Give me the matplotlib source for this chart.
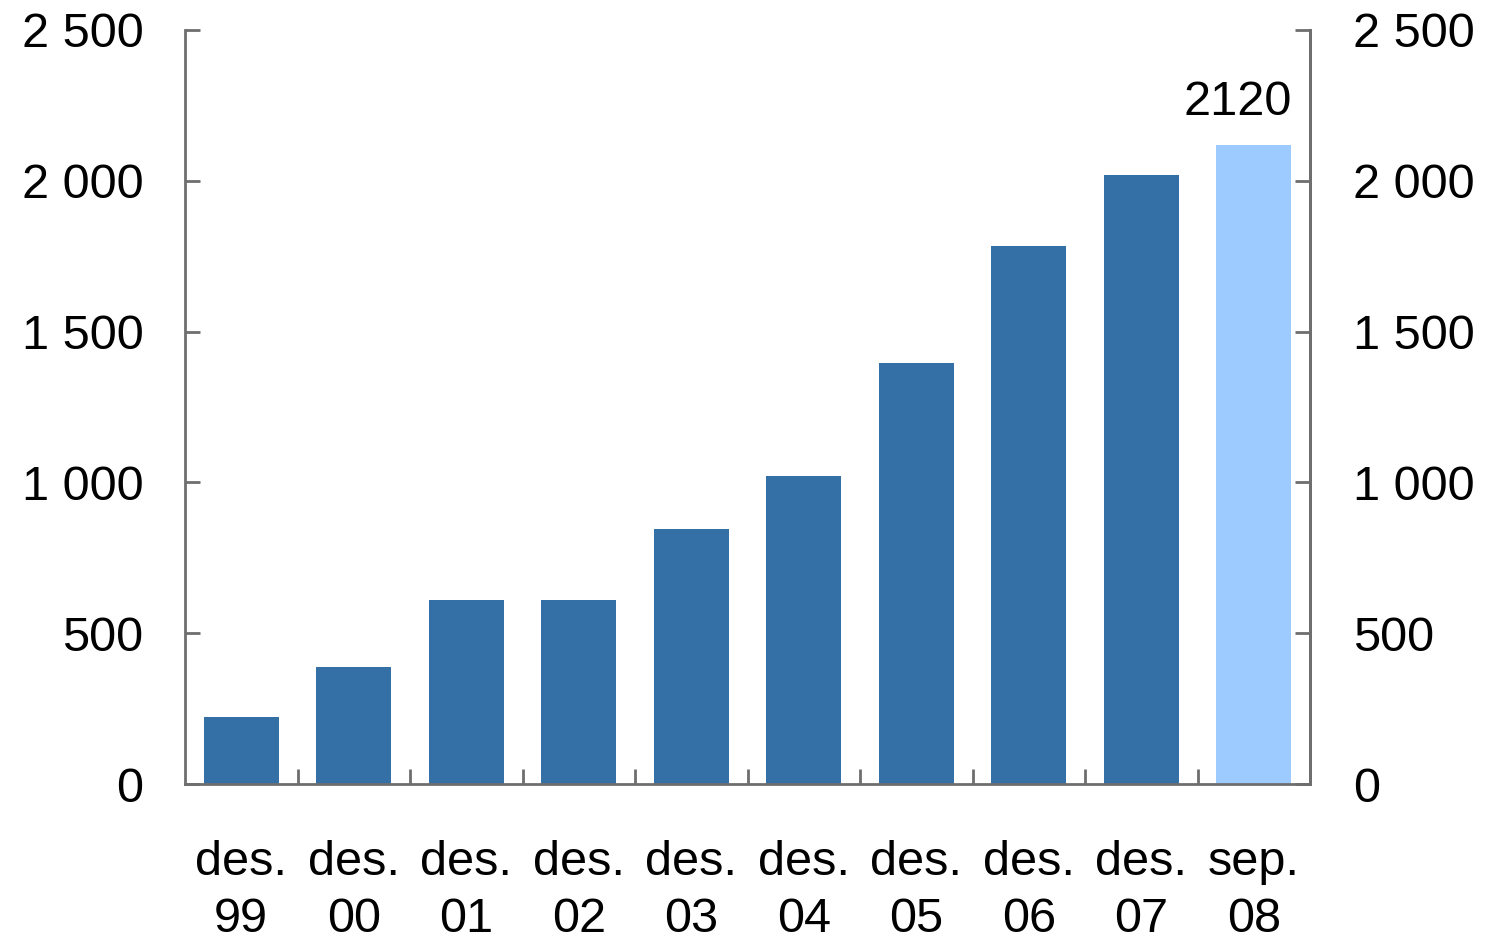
import matplotlib.pyplot as plt
from matplotlib.ticker import FuncFormatter

plt.rcParams['font.family'] = ['Liberation Sans', 'DejaVu Sans']

categories = ["des.\n99", "des.\n00", "des.\n01", "des.\n02", "des.\n03",
              "des.\n04", "des.\n05", "des.\n06", "des.\n07", "sep.\n08"]
values = [222, 388, 610, 610, 845, 1021, 1396, 1784, 2019, 2120]
highlight = "sep.\n08"

DARK = '#3470A6'
LIGHT = '#9DCBFF'
SPINE = '#6E6E6E'
FS = 35

fig = plt.figure(figsize=(14.89, 9.40), dpi=100)
ax = fig.add_axes([185 / 1489, 1 - 784 / 940, 1125 / 1489, 754 / 940])

x = list(range(len(categories)))
colors = [LIGHT if c == highlight else DARK for c in categories]
width = 0.67
ax.bar(x, values, width=width, color=colors, edgecolor='none', zorder=2)

ax.set_xlim(-0.5, len(categories) - 0.5)
ax.set_ylim(0, 2500)
ax.set_yticks([0, 500, 1000, 1500, 2000, 2500])
fmt = FuncFormatter(lambda v, p: f"{int(v):,}".replace(",", " "))
ax.yaxis.set_major_formatter(fmt)

ax.set_xticks(x)
ax.set_xticklabels(categories, fontsize=FS, linespacing=1.36)
ax.set_xticks([i + 0.5 for i in x[:-1]], minor=True)
ax.tick_params(axis='x', which='major', length=0, pad=40)
ax.tick_params(axis='x', which='minor', direction='in', length=11, width=2, color=SPINE)
ax.tick_params(axis='y', direction='in', length=11, width=2, color=SPINE,
               labelsize=FS, pad=30)

ax.spines['top'].set_visible(False)
for side in ['left', 'right', 'bottom']:
    ax.spines[side].set_color(SPINE)
    ax.spines[side].set_linewidth(2)

ax2 = ax.twinx()
ax2.set_ylim(ax.get_ylim())
ax2.set_yticks([0, 500, 1000, 1500, 2000, 2500])
ax2.yaxis.set_major_formatter(fmt)
ax2.tick_params(axis='y', direction='in', length=11, width=2, color=SPINE,
                labelsize=FS, pad=31)
for side in ['top', 'left', 'bottom']:
    ax2.spines[side].set_visible(False)
ax2.spines['right'].set_color(SPINE)
ax2.spines['right'].set_linewidth(2)

last = len(values) - 1
ax.annotate(f"{values[last]}", (last + width / 2, values[last]),
            xytext=(0, 14), textcoords='offset points',
            ha='right', va='bottom', fontsize=FS, color='black')

fig.savefig('out.png', dpi=100)
